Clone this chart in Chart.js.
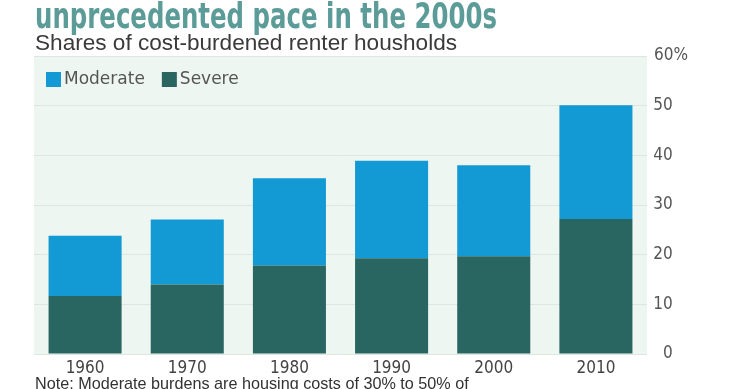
<!DOCTYPE html>
<html>
<head>
<meta charset="utf-8">
<script src="https://cdn.jsdelivr.net/npm/chart.js@4.4.1/dist/chart.umd.min.js"></script>
<style>
  body { margin: 0; background: #fff; width: 740px; height: 389px; overflow: hidden; position: relative; }
  #chartBox { position: absolute; left: 0; top: 0; width: 740px; height: 389px; }
  .title { position: absolute; left: 35px; top: -2px; white-space: nowrap;
    font: bold 36px/36px "DejaVu Sans Condensed", sans-serif; color: #5c9c98;
    transform: scaleX(0.754); transform-origin: left top; }
  .subtitle { position: absolute; left: 35px; top: 32px; white-space: nowrap;
    font: 22.6px/22px "Liberation Sans", sans-serif; color: #3a3a3a; }
  .note { position: absolute; left: 35px; top: 375px; white-space: nowrap;
    font: 16.2px/16px "Liberation Sans", sans-serif; color: #333; }
</style>
</head>
<body>
<div id="chartBox"><canvas id="myChart" width="740" height="389"></canvas></div>
<div class="title">unprecedented pace in the 2000s</div>
<div class="subtitle">Shares of cost-burdened renter housholds</div>
<div class="note">Note: Moderate burdens are housing costs of 30% to 50% of</div>
<script>
const years = ["1960", "1970", "1980", "1990", "2000", "2010"];
const severe = [11.7, 14.0, 17.8, 19.3, 19.7, 27.2];
const moderate = [12.1, 13.1, 17.6, 19.6, 18.3, 22.9];
// em space after plain numbers so the "%" hangs past them
const yTickLabels = ["0\u2003", "10\u2003", "20\u2003", "30\u2003", "40\u2003", "50\u2003", "60%"];

const tickFont = { family: '"DejaVu Sans Condensed", sans-serif', size: 17 };

// light green plot background
const plotBg = {
  id: "plotBg",
  beforeDraw(chart) {
    const { ctx, chartArea } = chart;
    ctx.save();
    ctx.fillStyle = "#eef6f2";
    ctx.fillRect(chartArea.left, chartArea.top, chartArea.right - chartArea.left, chartArea.bottom - chartArea.top);
    ctx.restore();
  },
};

// legend drawn inside the plot, top left
const insideLegend = {
  id: "insideLegend",
  afterDatasetsDraw(chart) {
    const { ctx, chartArea } = chart;
    const items = chart.data.datasets.slice().reverse();
    let x = chartArea.left + 12;
    const y = chartArea.top + 16;
    ctx.save();
    ctx.font = '17px "DejaVu Sans", sans-serif';
    ctx.textBaseline = "middle";
    items.forEach((ds) => {
      ctx.fillStyle = ds.backgroundColor;
      ctx.fillRect(x, y, 15, 15);
      ctx.fillStyle = "#555";
      ctx.fillText(ds.label, x + 18, y + 8);
      x += 18 + ctx.measureText(ds.label).width + 17;
    });
    ctx.restore();
  },
};

new Chart(document.getElementById("myChart").getContext("2d"), {
  type: "bar",
  data: {
    labels: years,
    datasets: [
      { label: "Severe", data: severe, backgroundColor: "#2a6661" },
      { label: "Moderate", data: moderate, backgroundColor: "#1399d3" },
    ],
  },
  options: {
    responsive: false,
    animation: false,
    barPercentage: 0.715,
    categoryPercentage: 1,
    layout: { padding: { left: 34, top: 56, right: 52, bottom: 0 } },
    plugins: { legend: { display: false }, tooltip: { enabled: false } },
    scales: {
      x: {
        stacked: true,
        grid: { display: false },
        border: { display: false },
        ticks: { font: tickFont, color: "#444", padding: -4 },
        afterFit: (s) => { s.height = 35; },
      },
      y: {
        stacked: true,
        position: "right",
        min: 0,
        max: 60,
        ticks: {
          stepSize: 10,
          font: tickFont,
          color: "#555",
          padding: 8,
          crossAlign: "far",
          callback: (v, i) => yTickLabels[i],
        },
        grid: { color: "#dde7e2", drawTicks: false },
        border: { display: false },
        afterFit: (s) => { s.width = 41; },
      },
    },
  },
  plugins: [plotBg, insideLegend],
});
</script>
</body>
</html>
